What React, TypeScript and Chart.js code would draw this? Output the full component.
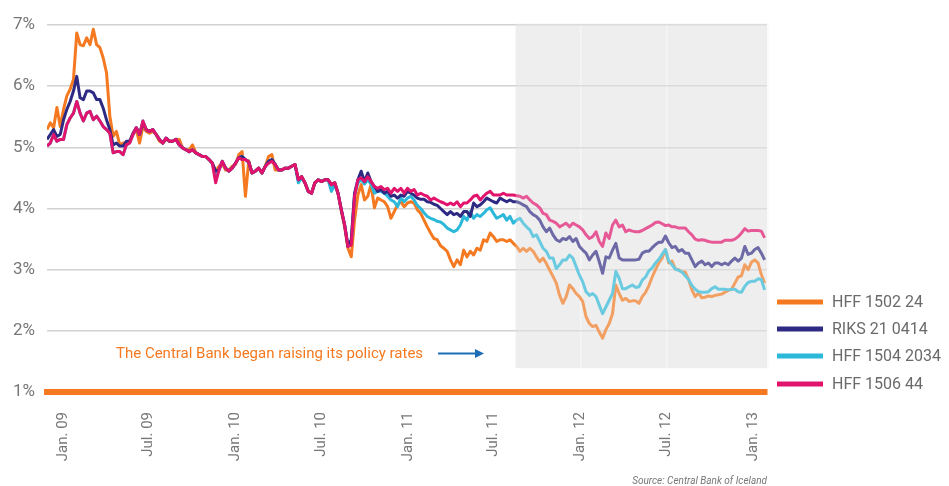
import React, { useEffect, useRef } from "react";
import { Chart, registerables } from "chart.js";

Chart.register(...registerables);

// ---- data (weekly observations, yields in %) ----
const firstObservation = "2008-11-28";
const observationStepDays = 7;

const tickDates = ["2009-01-01", "2009-07-01", "2010-01-01", "2010-07-01", "2011-01-01", "2011-07-01", "2012-01-01", "2012-07-01", "2013-01-01"];
const tickLabels = ["Jan. 09", "Jul. 09", "Jan. 10", "Jul. 10", "Jan. 11", "Jul. 11", "Jan. 12", "Jul. 12", "Jan. 13"];
const yTickValues = [1, 2, 3, 4, 5, 6, 7];

const seriesNames = ["HFF 1502 24", "RIKS 21 0414", "HFF 1504 2034", "HFF 1506 44"];
const seriesColors = ["#F47920", "#2E2A84", "#2BB8D9", "#E2136C"];

const hff150224 = [
  5.29, 5.40, 5.32, 5.65, 5.34, 5.62, 5.84, 5.95, 6.11, 6.87,
  6.68, 6.66, 6.79, 6.68, 6.93, 6.68, 6.63, 6.46, 6.22, 5.51,
  5.18, 5.26, 5.04, 5.07, 5.07, 5.10, 5.21, 5.29, 5.07, 5.34,
  5.26, 5.23, 5.26, 5.21, 5.10, 5.07, 5.13, 5.10, 5.10, 5.13,
  5.13, 4.99, 4.96, 4.96, 5.04, 4.91, 4.88, 4.85, 4.85, 4.80,
  4.74, 4.61, 4.69, 4.74, 4.63, 4.63, 4.69, 4.72, 4.88, 4.93,
  4.20, 4.78, 4.58, 4.61, 4.66, 4.58, 4.69, 4.85, 4.88, 4.63,
  4.63, 4.63, 4.66, 4.66, 4.69, 4.72, 4.47, 4.52, 4.42, 4.28,
  4.25, 4.42, 4.47, 4.44, 4.47, 4.47, 4.39, 4.42, 4.25, 3.95,
  3.70, 3.35, 3.21, 3.81, 4.22, 4.39, 4.14, 4.20, 4.39, 4.01,
  4.17, 4.14, 4.11, 4.03, 3.84, 3.95, 4.06, 4.11, 4.03, 4.09,
  4.11, 4.09, 3.98, 3.92, 3.81, 3.70, 3.60, 3.51, 3.49,
  3.39, 3.35, 3.30, 3.16, 3.05, 3.16, 3.08, 3.32, 3.21, 3.30, 3.24,
  3.35, 3.32, 3.49, 3.46, 3.60, 3.54, 3.46, 3.49, 3.49, 3.46,
  3.49, 3.43, 3.38, 3.30, 3.35, 3.30, 3.35, 3.30, 3.21, 3.13,
  3.19, 3.10, 2.99, 2.89, 2.78, 2.58, 2.45, 2.56, 2.75, 2.69,
  2.61, 2.56, 2.48, 2.23, 2.12, 2.07, 2.09, 1.98, 1.88, 2.02,
  2.12, 2.28, 2.75, 2.61, 2.50, 2.53, 2.48, 2.49, 2.49, 2.45,
  2.56, 2.63, 2.74, 2.88, 3.00, 3.11, 3.19, 3.33, 3.11, 3.14,
  3.01, 3.00, 2.96, 2.96, 2.84, 2.67, 2.56, 2.62, 2.54, 2.55,
  2.57, 2.56, 2.58, 2.59, 2.60, 2.63, 2.66, 2.68, 2.78, 2.88,
  2.90, 3.08, 3.00, 3.12, 3.16, 3.11, 2.92, 2.78,
];

const riks210414 = [
  5.13, 5.21, 5.29, 5.18, 5.21, 5.45, 5.62, 5.75, 5.92, 6.16,
  5.81, 5.78, 5.92, 5.92, 5.89, 5.78, 5.78, 5.64, 5.45, 5.29,
  5.04, 5.07, 5.02, 5.02, 5.10, 5.10, 5.23, 5.32, 5.21, 5.40,
  5.29, 5.26, 5.29, 5.21, 5.13, 5.07, 5.15, 5.10, 5.10, 5.13,
  5.04, 4.99, 4.96, 4.93, 4.96, 4.91, 4.88, 4.85, 4.85, 4.80,
  4.74, 4.61, 4.63, 4.77, 4.66, 4.61, 4.66, 4.74, 4.83, 4.85,
  4.80, 4.76, 4.58, 4.61, 4.66, 4.58, 4.69, 4.77, 4.80, 4.72,
  4.63, 4.63, 4.66, 4.66, 4.69, 4.72, 4.47, 4.52, 4.42, 4.28,
  4.25, 4.42, 4.47, 4.44, 4.47, 4.47, 4.39, 4.42, 4.25, 3.98,
  3.73, 3.38, 3.49, 4.25, 4.47, 4.61, 4.44, 4.58, 4.44, 4.36,
  4.28, 4.31, 4.25, 4.28, 4.20, 4.22, 4.17, 4.22, 4.20, 4.28,
  4.25, 4.22, 4.17, 4.15, 4.15, 4.11, 4.10, 4.07, 4.05,
  4.00, 3.95, 3.90, 3.95, 3.90, 3.92, 3.87, 3.95, 3.95, 3.87, 4.09,
  4.03, 4.06, 4.11, 4.17, 4.14, 4.11, 4.09, 4.17, 4.14, 4.11,
  4.14, 4.11, 4.11, 4.09, 4.06, 4.03, 3.95, 3.90, 3.87, 3.81,
  3.70, 3.62, 3.68, 3.57, 3.49, 3.46, 3.51, 3.49, 3.54, 3.46,
  3.51, 3.38, 3.32, 3.27, 3.16, 3.24, 3.30, 3.13, 2.94, 3.21,
  3.19, 3.32, 3.43, 3.19, 3.16, 3.16, 3.16, 3.16, 3.16, 3.17,
  3.27, 3.30, 3.30, 3.36, 3.41, 3.45, 3.45, 3.55, 3.44, 3.36,
  3.38, 3.30, 3.33, 3.27, 3.27, 3.16, 3.05, 3.11, 3.14, 3.08,
  3.11, 3.05, 3.11, 3.11, 3.08, 3.11, 3.08, 3.14, 3.19, 3.14,
  3.19, 3.38, 3.25, 3.27, 3.33, 3.36, 3.27, 3.16,
];

const hff1504034 = [
  5.02, 5.07, 5.21, 5.10, 5.13, 5.13, 5.37, 5.48, 5.56, 5.75,
  5.56, 5.43, 5.56, 5.59, 5.45, 5.51, 5.43, 5.34, 5.29, 5.23,
  4.91, 4.93, 4.93, 4.88, 5.04, 5.07, 5.21, 5.32, 5.21, 5.43,
  5.29, 5.26, 5.29, 5.21, 5.13, 5.07, 5.15, 5.10, 5.10, 5.13,
  5.04, 4.99, 4.96, 4.93, 4.96, 4.91, 4.88, 4.85, 4.85, 4.80,
  4.74, 4.50, 4.63, 4.77, 4.66, 4.61, 4.66, 4.74, 4.83, 4.85,
  4.80, 4.76, 4.58, 4.61, 4.66, 4.58, 4.69, 4.77, 4.80, 4.72,
  4.63, 4.63, 4.66, 4.66, 4.69, 4.72, 4.42, 4.50, 4.42, 4.28,
  4.25, 4.42, 4.47, 4.44, 4.47, 4.47, 4.28, 4.40, 4.25, 3.98,
  3.73, 3.40, 3.45, 4.22, 4.42, 4.47, 4.40, 4.47, 4.40, 4.25,
  4.28, 4.28, 4.25, 4.20, 4.14, 4.11, 4.03, 4.17, 4.11, 4.17,
  4.20, 4.14, 4.05, 4.00, 3.93, 3.87, 3.84, 3.82, 3.79,
  3.78, 3.74, 3.68, 3.65, 3.62, 3.65, 3.73, 3.87, 3.81, 3.95, 3.84,
  3.90, 3.87, 3.92, 3.98, 4.01, 3.92, 3.84, 3.87, 3.90, 3.81,
  3.87, 3.76, 3.81, 3.84, 3.76, 3.70, 3.65, 3.54, 3.57, 3.46,
  3.35, 3.30, 3.19, 3.19, 3.02, 3.08, 3.16, 3.16, 3.24, 3.19,
  3.05, 2.91, 2.80, 2.64, 2.58, 2.61, 2.56, 2.42, 2.28, 2.39,
  2.50, 2.61, 2.97, 2.86, 2.69, 2.69, 2.72, 2.75, 2.71, 2.72,
  2.83, 2.88, 2.98, 3.03, 3.11, 3.17, 3.25, 3.33, 3.14, 3.08,
  3.01, 2.99, 2.96, 2.90, 2.84, 2.74, 2.68, 2.64, 2.63, 2.63,
  2.64, 2.69, 2.72, 2.68, 2.68, 2.68, 2.67, 2.68, 2.68, 2.64,
  2.63, 2.73, 2.79, 2.81, 2.81, 2.85, 2.84, 2.67,
];

const hff150644 = [
  5.02, 5.07, 5.21, 5.10, 5.13, 5.13, 5.37, 5.48, 5.56, 5.75,
  5.56, 5.43, 5.56, 5.59, 5.45, 5.51, 5.43, 5.34, 5.29, 5.23,
  4.91, 4.93, 4.93, 4.88, 5.04, 5.07, 5.21, 5.32, 5.21, 5.43,
  5.29, 5.26, 5.29, 5.21, 5.13, 5.07, 5.15, 5.10, 5.10, 5.13,
  5.04, 4.99, 4.96, 4.93, 4.96, 4.91, 4.88, 4.85, 4.85, 4.80,
  4.74, 4.42, 4.63, 4.77, 4.66, 4.61, 4.66, 4.74, 4.83, 4.80,
  4.80, 4.76, 4.58, 4.61, 4.66, 4.58, 4.69, 4.74, 4.77, 4.72,
  4.63, 4.63, 4.66, 4.66, 4.69, 4.72, 4.47, 4.52, 4.42, 4.28,
  4.25, 4.42, 4.47, 4.44, 4.47, 4.47, 4.39, 4.42, 4.25, 3.98,
  3.73, 3.38, 3.40, 4.20, 4.47, 4.50, 4.44, 4.52, 4.44, 4.36,
  4.33, 4.36, 4.31, 4.33, 4.25, 4.33, 4.28, 4.33, 4.25, 4.33,
  4.28, 4.31, 4.22, 4.25, 4.22, 4.20, 4.14, 4.17, 4.14,
  4.11, 4.09, 4.06, 4.09, 4.06, 4.11, 4.03, 4.09, 4.09, 4.14, 4.20,
  4.22, 4.14, 4.20, 4.25, 4.28, 4.22, 4.22, 4.22, 4.25, 4.22,
  4.22, 4.22, 4.21, 4.20, 4.17, 4.20, 4.14, 4.09, 4.06, 4.01,
  3.92, 3.90, 3.81, 3.79, 3.76, 3.70, 3.73, 3.76, 3.70, 3.76,
  3.73, 3.70, 3.65, 3.57, 3.51, 3.54, 3.62, 3.46, 3.38, 3.60,
  3.51, 3.73, 3.81, 3.70, 3.73, 3.62, 3.65, 3.63, 3.62, 3.62,
  3.64, 3.67, 3.70, 3.73, 3.77, 3.78, 3.75, 3.72, 3.73, 3.70,
  3.70, 3.68, 3.68, 3.68, 3.62, 3.57, 3.50, 3.48, 3.49, 3.48,
  3.46, 3.45, 3.45, 3.45, 3.45, 3.48, 3.48, 3.48, 3.50, 3.54,
  3.60, 3.67, 3.63, 3.64, 3.64, 3.64, 3.63, 3.52,
];

const seriesValues = [hff150224, riks210414, hff1504034, hff150644];
const drawOrder = [4, 2, 3, 1]; // magenta on top, orange at the bottom

const shadeFromDate = "2011-08-17";
const shadeFloor = 1.39;
const axisStartDate = "2008-11-28";
const axisEndDate = "2013-01-30";

const annotationText = "The Central Bank began raising its policy rates";
const sourceText = "Source: Central Bank of Iceland";

// ---- helpers ----
const EPOCH = Date.UTC(2009, 0, 1);
function dayOf(iso: string): number {
  const [y, m, d] = iso.split("-").map(Number);
  return (Date.UTC(y, m - 1, d) - EPOCH) / 86400000;
}
const firstDay = dayOf(firstObservation);
const tickDays = tickDates.map(dayOf);

const FONT = "Roboto";
const TICK_COLOR = "#777777";

const decorPlugin = {
  id: "decor",
  beforeDraw(chart: any) {
    const { ctx, chartArea, scales } = chart;
    const x0 = scales.x.getPixelForValue(dayOf(shadeFromDate));
    const y1 = scales.y.getPixelForValue(shadeFloor);
    ctx.save();
    ctx.fillStyle = "#eeeeee";
    ctx.fillRect(x0, chartArea.top, chartArea.right - x0, y1 - chartArea.top);
    ctx.restore();
  },
  afterDatasetsDraw(chart: any) {
    const { ctx, chartArea, scales } = chart;
    const x0 = scales.x.getPixelForValue(dayOf(shadeFromDate));
    const y1 = scales.y.getPixelForValue(shadeFloor);
    ctx.save();
    ctx.fillStyle = "rgba(238,238,238,0.32)";
    ctx.fillRect(x0, chartArea.top - 2, chartArea.right - x0 + 2, y1 - chartArea.top + 2);
    ctx.restore();
  },
  afterDraw(chart: any) {
    const { ctx, chartArea } = chart;
    ctx.save();
    // legend
    const lx = chartArea.right + 10;
    const rows = [302, 329, 356, 384];
    seriesNames.forEach((name, i) => {
      ctx.strokeStyle = seriesColors[i];
      ctx.lineWidth = 5;
      ctx.beginPath();
      ctx.moveTo(lx, rows[i]);
      ctx.lineTo(lx + 46, rows[i]);
      ctx.stroke();
      ctx.fillStyle = "#6a6a6a";
      ctx.font = `16px ${FONT}`;
      ctx.textBaseline = "middle";
      ctx.textAlign = "left";
      ctx.fillText(name, lx + 55, rows[i] + 1);
    });
    // annotation text + arrow
    const ay = 354;
    ctx.font = `15px ${FONT}`;
    ctx.fillStyle = "#F47920";
    ctx.textBaseline = "middle";
    ctx.textAlign = "left";
    const tx = 116, targetW = 316;
    const w = ctx.measureText(annotationText).width;
    ctx.save();
    ctx.translate(tx, ay);
    ctx.scale(Math.min(1, targetW / w), 1);
    ctx.fillText(annotationText, 0, 0);
    ctx.restore();
    ctx.strokeStyle = "#1B6EB5";
    ctx.fillStyle = "#1B6EB5";
    ctx.lineWidth = 2;
    ctx.beginPath();
    ctx.moveTo(438, ay - 0.5);
    ctx.lineTo(476, ay - 0.5);
    ctx.stroke();
    ctx.beginPath();
    ctx.moveTo(484, ay - 0.5);
    ctx.lineTo(475, ay - 5);
    ctx.lineTo(475, ay + 4);
    ctx.closePath();
    ctx.fill();
    // source
    ctx.font = `italic 10px ${FONT}`;
    ctx.fillStyle = "#777777";
    ctx.textAlign = "right";
    ctx.textBaseline = "middle";
    ctx.fillText(sourceText, chartArea.right, 481);
    ctx.restore();
  },
};

export default function App() {
  const ref = useRef<HTMLCanvasElement | null>(null);

  useEffect(() => {
    document.body.style.margin = "0";
    const canvas = ref.current;
    if (!canvas) return;
    const datasets = seriesNames.map((name, i) => ({
      label: name,
      data: seriesValues[i].map((v, k) => ({ x: firstDay + k * observationStepDays, y: v })),
      borderColor: seriesColors[i],
      backgroundColor: seriesColors[i],
      borderWidth: 3,
      pointRadius: 0,
      tension: 0,
      fill: false,
      order: drawOrder[i],
      borderJoinStyle: "round" as const,
    }));

    const lastTick = tickDays[tickDays.length - 1];

    const chart = new Chart(canvas, {
      type: "line",
      data: { datasets },
      plugins: [decorPlugin],
      options: {
        responsive: false,
        animation: false,
        devicePixelRatio: 1,
        layout: { padding: { left: 0, right: 182, top: 25, bottom: 0 } },
        plugins: { legend: { display: false }, tooltip: { enabled: false } },
        scales: {
          x: {
            type: "linear",
            min: dayOf(axisStartDate),
            max: dayOf(axisEndDate),
            afterBuildTicks: (scale: any) => {
              scale.ticks = tickDays.map((v) => ({ value: v }));
            },
            afterFit: (scale: any) => {
              scale.height = 94;
            },
            ticks: {
              autoSkip: false,
              maxRotation: 90,
              minRotation: 90,
              padding: 20,
              color: TICK_COLOR,
              font: { family: FONT, size: 15 },
              callback: (v: any) => {
                const idx = tickDays.indexOf(Number(v));
                return idx >= 0 ? tickLabels[idx] : "";
              },
            },
            grid: {
              color: (c: any) => (c.tick && c.tick.value === lastTick ? "rgba(0,0,0,0)" : "rgba(255,255,255,0.7)"),
              lineWidth: 1.5,
              drawTicks: false,
              z: -1,
            },
            border: { display: true, color: "#F47920", width: 6 },
          },
          y: {
            min: 1,
            max: 7,
            afterBuildTicks: (scale: any) => {
              scale.ticks = yTickValues.map((v) => ({ value: v }));
            },
            afterFit: (scale: any) => {
              scale.width = 47;
            },
            ticks: {
              padding: 12,
              color: TICK_COLOR,
              font: { family: FONT, size: 17 },
              callback: (v: any) => `${v}%`,
            },
            grid: { color: "#d2d2d2", lineWidth: 1.5, drawTicks: false },
            border: { display: false },
          },
        },
      },
    });
    return () => chart.destroy();
  }, []);

  return (
    <div style={{ position: "absolute", left: 0, top: 0, width: 949, height: 486 }}>
      <canvas ref={ref} width={949} height={486} style={{ width: 949, height: 486, display: "block" }} />
    </div>
  );
}
